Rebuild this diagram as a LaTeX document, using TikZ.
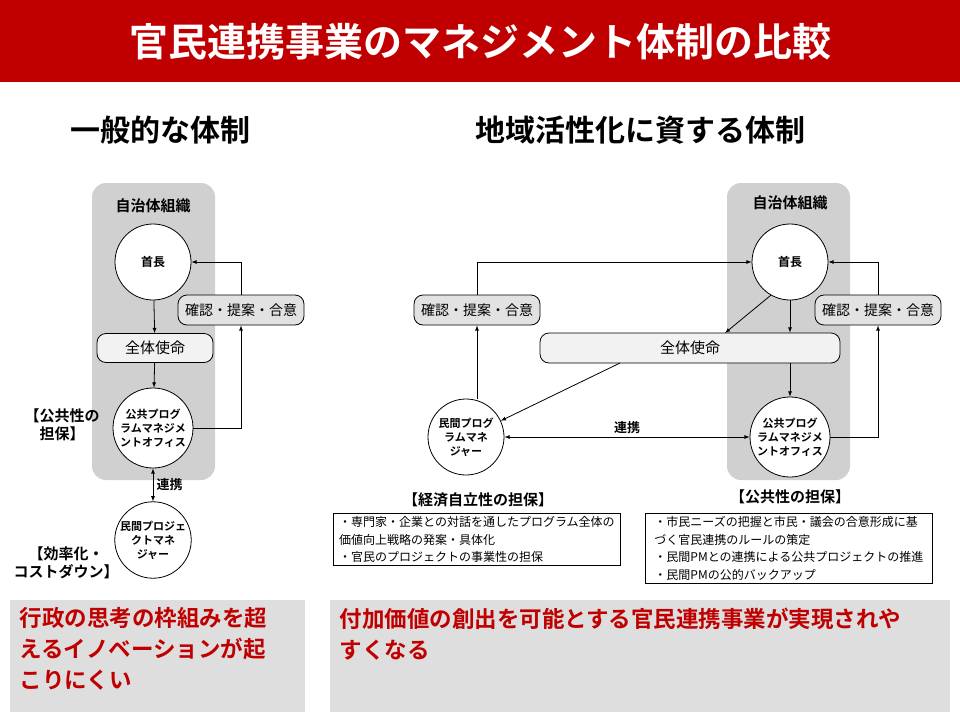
\documentclass[tikz,border=0pt]{standalone}
\usepackage{fontspec}
\setmainfont{Noto Sans CJK JP}
\newfontfamily\jpbold{Noto Sans CJK JP Bold}
\XeTeXlinebreaklocale "ja"
\XeTeXlinebreakskip=0pt plus 1pt
\usetikzlibrary{positioning}
\definecolor{titlered}{HTML}{C00000}
\definecolor{orggray}{HTML}{D0D0D0}
\definecolor{pillgray}{HTML}{E2E2E2}
\definecolor{notegray}{HTML}{DEDEDE}
\begin{document}
\begin{tikzpicture}[x=1pt,y=-1pt]
\tikzset{org/.style={draw=none, fill=orggray, rounded corners=14pt},
role/.style={circle, draw=black, fill=white, thick, inner sep=0pt, align=center, font=\jpbold\fontsize{11}{14}\selectfont},
pill/.style={draw=black, rounded corners=9pt, thick, font=\fontsize{14}{16}\selectfont},
note/.style={draw=black, thick, align=left, anchor=north west, inner sep=3pt, font=\fontsize{12}{17.5}\selectfont},
f/.style={->, >=latex, thick},
ff/.style={<->, >=latex, thick},
head/.style={font=\jpbold\fontsize{15}{18}\selectfont, align=center},
result/.style={anchor=north west, text=titlered, align=left, font=\jpbold\fontsize{22.5}{31}\selectfont}}
\useasboundingbox (0,0) rectangle (960,720);
\fill[white] (0,0) rectangle (960,720);

% title
\fill[titlered] (0,0) rectangle (960,82);
\node[text=white, font=\jpbold\fontsize{39}{42}\selectfont] (title) at (480,42) {官民連携事業のマネジメント体制の比較};
\node[font=\jpbold\fontsize{30}{33}\selectfont] (subl) at (160,130) {一般的な体制};
\node[font=\jpbold\fontsize{30}{33}\selectfont] (subr) at (640,130) {地域活性化に資する体制};

% left: general
\draw[org] (92,183) rectangle (215,480);
\node[head] (orgl) at (153,206) {自治体組織};
\node[role, minimum size=76pt, font=\jpbold\fontsize{12}{14}\selectfont] (headl) at (153,262) {首長};
\node[pill, fill=pillgray, minimum width=126pt, minimum height=30pt] (checkl) at (241,310) {確認・提案・合意};
\node[pill, fill=white!95!black, minimum width=116pt, minimum height=29pt, font=\fontsize{15}{18}\selectfont] (missl) at (155,348) {全体使命};
\node[role, minimum size=80pt] (pmol) at (153,428) {公共プログ\\ラムマネジメ\\ントオフィス};
\node[role, minimum size=76pt] (pml) at (153,540) {民間プロジェ\\クトマネ\\ジャー};
\node[head] (publ) at (62,425) {【公共性の\\担保】};
\node[head] (effl) at (66,563) {【効率化・\\コストダウン】};

\draw[f] (headl) -- (missl);
\draw[f] (missl) -- (pmol);
\draw[f] (pmol.east) -| (checkl.south);
\draw[f] (checkl.north) |- (headl.east);
\draw[ff] (pmol) -- node[right, font=\jpbold\fontsize{13}{15}\selectfont] {連携} (pml);

% right: regional
\draw[org] (727,183) rectangle (850,480);
\node[head] (orgr) at (790,203) {自治体組織};
\node[role, minimum size=76pt, font=\jpbold\fontsize{12}{14}\selectfont] (headr) at (790,262) {首長};
\node[pill, fill=pillgray, minimum width=126pt, minimum height=30pt] (checkr) at (878,310) {確認・提案・合意};
\node[pill, fill=pillgray, minimum width=126pt, minimum height=30pt] (checkpm) at (477,310) {確認・提案・合意};
\node[pill, fill=white!95!black, minimum width=300pt, minimum height=30pt, font=\fontsize{15}{18}\selectfont] (missr) at (690,348) {全体使命};
\node[role, minimum size=76pt] (pmr) at (466,437) {民間プログ\\ラムマネ\\ジャー};
\node[role, minimum size=80pt] (pmor) at (790,437) {公共プログ\\ラムマネジメ\\ントオフィス};

\draw[f] (checkpm.north) |- (headr.west);
\draw[f] (pmr.north -| checkpm) -- (checkpm.south);
\draw[f] (headr.240) -- (725,333);
\draw[f] (headr.south) -- (headr.south |- missr.north);
\draw[f] (620,363) -- (pmr.25);
\draw[f] (pmor.north |- missr.south) -- (pmor.north);
\draw[f] (pmor.east) -| (checkr.south);
\draw[f] (checkr.north) |- (headr.east);
\draw[ff] (pmr.east) -- node[above, font=\jpbold\fontsize{13}{15}\selectfont] {連携} (pmor.west);

\node[head] (ecoh) at (478,500) {【経済自立性の担保】};
\node[note, minimum width=287pt] (eco) at (333,513) {・専門家・企業との対話を通したプログラム全体の\\価値向上戦略の発案・具体化\\・官民のプロジェクトの事業性の担保};
\node[head] (pubh) at (790,497) {【公共性の担保】};
\node[note, minimum width=287pt] (pub) at (645,513) {・市民ニーズの把握と市民・議会の合意形成に基\\づく官民連携のルールの策定\\・民間PMとの連携による公共プロジェクトの推進\\・民間PMの公的バックアップ};

% bottom notes
\fill[notegray] (10,600) rectangle (305,712);
\fill[notegray] (330,600) rectangle (950,712);
\node[result] (resl) at (16,604) {行政の思考の枠組みを超\\えるイノベーションが起\\こりにくい};
\node[result] (resr) at (336,604) {付加価値の創出を可能とする官民連携事業が実現されや\\すくなる};
\end{tikzpicture}
\end{document}
